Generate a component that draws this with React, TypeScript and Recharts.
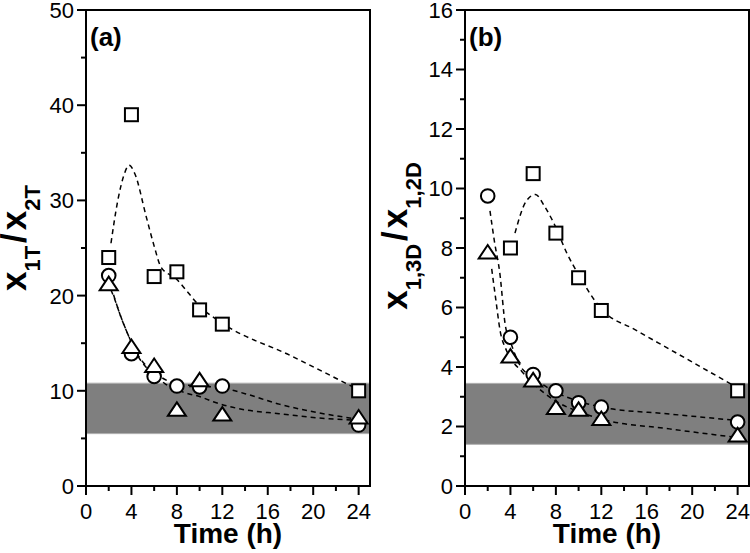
import React from "react";
import { ComposedChart, Line, Scatter, XAxis, YAxis, ReferenceArea } from "recharts";

const FONT = "'Liberation Sans', Arial, Helvetica, sans-serif";

// sampling times (h)
const times = [2, 4, 6, 8, 10, 12, 24];
const timesSqB = [4, 6, 8, 10, 12, 24];

// panel (a) x1T/x2T
const squaresA = [24, 39, 22, 22.5, 18.5, 17, 10];
const circlesA = [22.1, 13.9, 11.5, 10.5, 10.4, 10.5, 6.4];
const trianglesA = [21.2, 14.6, 12.6, 8.0, 11.1, 7.5, 7.2];

// panel (b) x1,3D/x1,2D
const squaresB = [8.0, 10.5, 8.5, 7.0, 5.9, 3.2];
const circlesB = [9.75, 5.0, 3.75, 3.2, 2.8, 2.65, 2.15];
const trianglesB = [7.85, 4.35, 3.55, 2.62, 2.56, 2.25, 1.7];

// dashed model curves
const fitSqA_t = [2.2, 2.8, 3.3, 3.8, 4.3, 5.3, 6, 6.6, 8, 9, 10, 12, 18, 24];
const fitSqA_y = [25.5, 30, 32.5, 33.7, 32.8, 28.3, 25.2, 23, 21.7, 20.3, 18.9, 17.1, 13.7, 10.1];
const fitCirA_t = [2.2, 2.5, 3, 3.7, 4.5, 5.5, 6.5, 7.5, 8, 10, 12, 14, 17, 20, 24];
const fitCirA_y = [21, 19.8, 18, 15.9, 13.9, 12.4, 11.5, 10.9, 10.75, 10.5, 10.3, 9.7, 8.6, 7.8, 7.0];
const fitTriA_t = [2.2, 2.5, 3, 3.7, 4.5, 5.5, 6.5, 7, 8, 9, 10, 11.2, 14, 17, 20, 24];
const fitTriA_y = [20.6, 19.7, 18, 15.9, 13.8, 12.2, 11.2, 10.7, 10.1, 9.7, 9.4, 8.85, 8.0, 7.6, 7.2, 6.9];

const fitSqB_t = [4.4, 5.35, 6.2, 7, 7.8, 9, 10, 12, 15, 18, 24];
const fitSqB_y = [8.5, 9.55, 9.8, 9.4, 8.85, 7.8, 7.1, 5.95, 5.25, 4.6, 3.3];
const fitCirB_t = [2.2, 2.6, 3.05, 3.55, 4, 4.85, 6, 8, 10, 12, 18, 24];
const fitCirB_y = [9.25, 8.2, 7.2, 5.4, 4.85, 4.05, 3.65, 3.15, 2.85, 2.65, 2.42, 2.2];
const fitTriB_t = [2.35, 2.7, 3.1, 3.6, 4, 5, 6, 8, 10, 12, 18, 24];
const fitTriB_y = [7.3, 6.3, 5.2, 4.6, 4.3, 3.85, 3.45, 2.85, 2.5, 2.25, 1.92, 1.63];

// axes
const xTicks = [0, 2, 4, 6, 8, 10, 12, 14, 16, 18, 20, 22, 24];
const yTicksA = [0, 5, 10, 15, 20, 25, 30, 35, 40, 45, 50];
const yTicksB = [0, 1, 2, 3, 4, 5, 6, 7, 8, 9, 10, 11, 12, 13, 14, 15, 16];
const bandA = [5.5, 10.8];
const bandB = [1.4, 3.45];

const pts = (ts: number[], ys: number[]) => ts.map((t, i) => ({ t, y: ys[i] }));

const Square = (p: any) => (
  <rect x={p.cx - 6.5} y={p.cy - 6.5} width={13} height={13} fill="#fff" stroke="#000" strokeWidth={2} />
);
const Circle = (p: any) => <circle cx={p.cx} cy={p.cy} r={6.8} fill="#fff" stroke="#000" strokeWidth={2} />;
const Triangle = (p: any) => (
  <path
    d={`M${p.cx},${p.cy - 7.5}L${p.cx + 9},${p.cy + 6}L${p.cx - 9},${p.cy + 6}Z`}
    fill="#fff"
    stroke="#000"
    strokeWidth={2}
  />
);

const YTick = (props: any) => {
  const { x, y, payload, major } = props;
  const isMajor = payload.value % major === 0;
  return (
    <g>
      <line x1={x} x2={x - (isMajor ? 9 : 5)} y1={y} y2={y} stroke="#000" strokeWidth={2} />
      {isMajor && (
        <text x={x - 12} y={y} dy="0.36em" textAnchor="end" fontSize={22} fontFamily={FONT} fill="#000">
          {payload.value}
        </text>
      )}
    </g>
  );
};

const XTick = (props: any) => {
  const { x, y, payload } = props;
  const isMajor = payload.value % 4 === 0;
  return (
    <g>
      <line x1={x} x2={x} y1={y} y2={y + (isMajor ? 9 : 5)} stroke="#000" strokeWidth={2} />
      {isMajor && (
        <text x={x} y={y + 32.5} textAnchor="middle" fontSize={22} fontFamily={FONT} fill="#000">
          {payload.value}
        </text>
      )}
    </g>
  );
};

const XTitle = ({ cx }: any) => (
  <text x={cx} y={543} textAnchor="middle" fontSize={28} fontWeight="bold" fontFamily={FONT} fill="#000">
    Time (h)
  </text>
);

const YTitle = ({ cx, cy, sub1, sub2, tag, tagX }: any) => (
  <g>
    <text
      transform={`rotate(-90 ${cx} ${cy})`}
      x={cx}
      y={cy}
      textAnchor="middle"
      fontFamily={FONT}
      fontWeight="bold"
      fill="#000"
    >
      <tspan fontSize={35}>x</tspan>
      <tspan fontSize={22} dy={14}>{sub1}</tspan>
      <tspan fontSize={35} dy={-14} dx={3}>/</tspan>
      <tspan fontSize={35} dx={3}>x</tspan>
      <tspan fontSize={22} dy={14}>{sub2}</tspan>
    </text>
    <text x={tagX} y={46} fontSize={26} fontWeight="bold" fontFamily={FONT} fill="#000">
      {tag}
    </text>
  </g>
);

interface PanelProps {
  left: number;
  yWidth: number;
  rightMargin: number;
  yMax: number;
  yTicks: number[];
  yMajor: number;
  band: number[];
  title: React.ReactElement;
  squares: { t: number; y: number }[];
  circles: { t: number; y: number }[];
  triangles: { t: number; y: number }[];
  fits: { t: number; y: number }[][];
}

function Panel(p: PanelProps) {
  const dash = { stroke: "#000", strokeWidth: 1.5, strokeDasharray: "5 4" };
  return (
    <div style={{ position: "absolute", left: p.left, top: 0 }}>
      <ComposedChart width={375} height={553} margin={{ top: 10, right: p.rightMargin, left: 0, bottom: 0 }}>
        <XAxis
          dataKey="t"
          type="number"
          domain={[0, 25]}
          ticks={xTicks}
          interval={0}
          height={67}
          tickSize={0}
          tickMargin={0}
          tickLine={false}
          axisLine={false}
          tick={(t: any) => <XTick {...t} />}
          label={<XTitle cx={p.yWidth + 142} />}
        />
        <YAxis
          dataKey="y"
          type="number"
          domain={[0, p.yMax]}
          ticks={p.yTicks}
          interval={0}
          width={p.yWidth}
          tickSize={0}
          tickMargin={0}
          tickLine={false}
          axisLine={false}
          tick={(t: any) => <YTick {...t} major={p.yMajor} />}
          label={p.title}
        />
        <ReferenceArea
          x1={0}
          x2={25}
          y1={p.band[0]}
          y2={p.band[1]}
          fill="#7f7f7f"
          fillOpacity={1}
          stroke="#b0b0b0"
          strokeWidth={1}
        />
        <ReferenceArea x1={0} x2={25} y1={0} y2={p.yMax} fill="none" stroke="#000" strokeWidth={2} />
        {p.fits.map((f, i) => (
          <Line
            key={i}
            data={f}
            dataKey="y"
            type="monotone"
            dot={false}
            activeDot={false}
            {...dash}
            isAnimationActive={false}
          />
        ))}
        <Scatter data={p.squares} dataKey="y" shape={(s: any) => <Square {...s} />} isAnimationActive={false} />
        <Scatter data={p.circles} dataKey="y" shape={(s: any) => <Circle {...s} />} isAnimationActive={false} />
        <Scatter data={p.triangles} dataKey="y" shape={(s: any) => <Triangle {...s} />} isAnimationActive={false} />
      </ComposedChart>
    </div>
  );
}

export default function App() {
  return (
    <div style={{ position: "absolute", left: 0, top: 0, width: 750, height: 553, background: "#fff" }}>
      <Panel
        left={0}
        yWidth={86}
        rightMargin={5}
        yMax={50}
        yTicks={yTicksA}
        yMajor={10}
        band={bandA}
        title={<YTitle cx={26} cy={238} sub1="1T" sub2="2T" tag="(a)" tagX={90} />}
        squares={pts(times, squaresA)}
        circles={pts(times, circlesA)}
        triangles={pts(times, trianglesA)}
        fits={[pts(fitSqA_t, fitSqA_y), pts(fitCirA_t, fitCirA_y), pts(fitTriA_t, fitTriA_y)]}
      />
      <Panel
        left={375}
        yWidth={90}
        rightMargin={1}
        yMax={16}
        yTicks={yTicksB}
        yMajor={2}
        band={bandB}
        title={<YTitle cx={31.5} cy={236} sub1="1,3D" sub2="1,2D" tag="(b)" tagX={94} />}
        squares={pts(timesSqB, squaresB)}
        circles={pts(times, circlesB)}
        triangles={pts(times, trianglesB)}
        fits={[pts(fitSqB_t, fitSqB_y), pts(fitCirB_t, fitCirB_y), pts(fitTriB_t, fitTriB_y)]}
      />
    </div>
  );
}
